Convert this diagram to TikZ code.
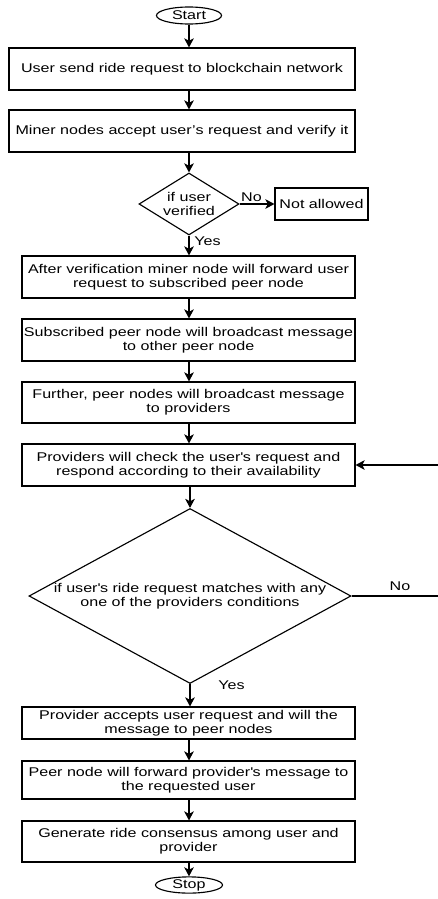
\documentclass[tikz,border=0pt]{standalone}
\usepackage{fontspec}
\setmainfont{Liberation Sans}[FakeStretch=1.27]
\usetikzlibrary{shapes.geometric,arrows.meta}
\begin{document}
\begin{tikzpicture}[x=0.75pt,y=-0.75pt,
  font=\fontsize{9.5pt}{10.7pt}\selectfont,
  line width=0.85pt,
  bx/.style 2 args={minimum width=#1*0.75pt, minimum height=#2*0.75pt},
  box/.style={draw, rectangle, align=center, inner sep=0pt},
  term/.style={draw, ellipse, inner sep=0pt},
  dia/.style={draw, diamond, align=center, inner sep=0pt},
  arr/.style={-{Stealth[length=6.8pt,width=7.2pt,inset=1.8pt]}},
  lbl/.style={inner sep=0pt}]
\useasboundingbox (0,0) rectangle (437,899);
\fill[white] (0,0) rectangle (437,899);

\node[term, bx={65}{17}] (start) at (189,15.5) {Start};
\node[box, bx={346}{42}] (b1) at (182,69) {User send ride request to blockchain network};
\node[box, bx={346}{42}] (b2) at (182,131) {Miner nodes accept user's request and verify it};
\node[dia, aspect=1.6, bx={100}{62}] (d1) at (189,204) {if user\\verified};
\node[box, bx={93}{32}] (na) at (321.5,204) {Not allowed};
\node[box, bx={333}{42}] (b3) at (188.5,277) {After verification miner node will forward user\\request to subscribed peer node};
\node[box, bx={333}{42}] (b4) at (188.5,340) {Subscribed peer node will broadcast message\\to other peer node};
\node[box, bx={333}{41}] (b5) at (188.5,402.5) {Further, peer nodes will broadcast message\\to providers};
\node[box, bx={333}{42}] (b6) at (188.5,465) {Providers will check the user\textquotesingle s request and\\respond according to their availability};
\node[dia, aspect=1.84, bx={322}{175}] (d2) at (190,596) {if user\textquotesingle s ride request matches with any\\one of the providers conditions};
\node[box, bx={333}{32}] (b7) at (188.5,723) {Provider accepts user request and will the\\message to peer nodes};
\node[box, bx={333}{38}] (b8) at (188.5,780) {Peer node will forward provider\textquotesingle s message to\\the requested user};
\node[box, bx={333}{41}] (b9) at (188.5,841.5) {Generate ride consensus among user and\\provider};
\node[term, bx={67}{16}] (stop) at (189,885) {Stop};

\node[lbl] (no1) at (251.5,197) {No};
\node[lbl] (yes1) at (207.5,241) {Yes};
\node[lbl] (no2) at (400,586) {No};
\node[lbl] (yes2) at (231.5,685) {Yes};

\draw[arr] (start.south) -- (start.south |- b1.north);
\draw[arr] (b1.south -| start) -- (b2.north -| start);
\draw[arr] (b2.south -| start) -- (d1.north);
\draw[arr] (d1.east) -- (na.west);
\draw[arr] (d1.south) -- (d1.south |- b3.north);
\draw[arr] (b3.south -| start) -- (b4.north -| start);
\draw[arr] (b4.south -| start) -- (b5.north -| start);
\draw[arr] (b5.south -| start) -- (b6.north -| start);
\draw[arr] (b6.south -| d2) -- (d2.north);
\draw[arr] (d2.east) -- ++(92,0) |- (b6.east);
\draw[arr] (d2.south) -- (d2.south |- b7.north);
\draw[arr] (b7.south -| start) -- (b8.north -| start);
\draw[arr] (b8.south -| start) -- (b9.north -| start);
\draw[arr] (b9.south -| start) -- (stop.north);
\end{tikzpicture}
\end{document}
